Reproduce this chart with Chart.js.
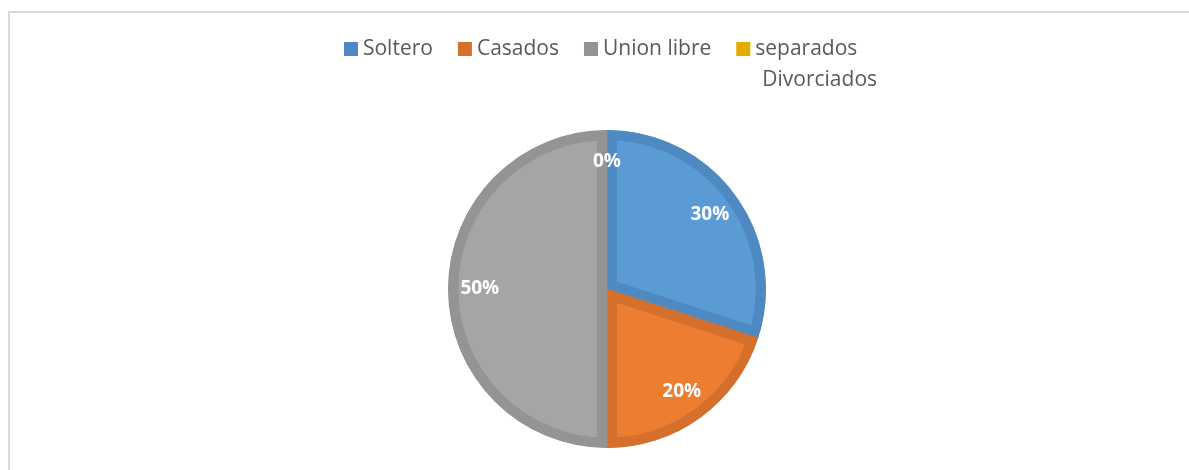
<!DOCTYPE html>
<html>
<head>
<meta charset="utf-8">
<script src="https://cdn.jsdelivr.net/npm/chart.js@4/dist/chart.umd.min.js"></script>
<style>
  html, body { margin: 0; padding: 0; background: #ffffff; overflow: hidden; width: 1189px; height: 470px; }
  #frame { position: absolute; left: 8px; top: 11px; width: 1181px; height: 459px;
           border-left: 2px solid #d9d9d9; border-top: 2px solid #d9d9d9; box-sizing: border-box; }
  #wrap { position: absolute; left: 0; top: 0; width: 1189px; height: 470px; }
</style>
</head>
<body>
<div id="frame"></div>
<div id="wrap"><canvas id="c" width="1189" height="470"></canvas></div>
<script>
const categories = ["Soltero", "Casados", "Union libre", "separados Divorciados"];
const legendLines = [["Soltero"], ["Casados"], ["Union libre"], ["separados", "Divorciados"]];
const values = [30, 20, 50, 0];
const percentLabels = ["30%", "20%", "50%", "0%"];
const fillColors = ["#5B9BD5", "#ED7D31", "#A5A5A5", "#FFC000"];
const edgeColors = ["#4F89C2", "#D4702C", "#949494", "#E5AC00"];

const labelPlugin = {
  id: 'sliceLabels',
  afterDatasetsDraw(chart) {
    const ctx = chart.ctx;
    const meta = chart.getDatasetMeta(0);
    ctx.save();
    ctx.font = 'bold 19px "Open Sans"';
    ctx.fillStyle = '#ffffff';
    ctx.textAlign = 'center';
    ctx.textBaseline = 'middle';
    meta.data.forEach((arc, i) => {
      const p = arc.getProps(['x', 'y', 'startAngle', 'endAngle', 'outerRadius'], true);
      const mid = (p.startAngle + p.endAngle) / 2;
      const r = p.outerRadius * 0.8;
      ctx.fillText(percentLabels[i], p.x + Math.cos(mid) * r, p.y + Math.sin(mid) * r);
    });
    ctx.restore();
  }
};

// Legend drawn from the chart's own data (labels + dataset colours)
const legendPlugin = {
  id: 'wrapLegend',
  afterDraw(chart) {
    const ctx = chart.ctx;
    const box = 14, boxGap = 5, itemGap = 25, firstY = 49, lineH = 31;
    ctx.save();
    ctx.font = '21px "Open Sans"';
    ctx.textBaseline = 'middle';
    ctx.textAlign = 'left';
    const widths = legendLines.map(lines => box + boxGap + Math.max(...lines.map(t => ctx.measureText(t).width)));
    const total = widths.reduce((a, b) => a + b, 0) + itemGap * (widths.length - 1);
    const cx = (chart.chartArea.left + chart.chartArea.right) / 2;
    let x = cx - total / 2;
    const colors = chart.data.datasets[0].borderColor;
    legendLines.forEach((lines, i) => {
      ctx.fillStyle = colors[i];
      ctx.fillRect(x, firstY - box / 2, box, box);
      ctx.fillStyle = '#595959';
      lines.forEach((t, j) => ctx.fillText(t, x + box + boxGap + (j > 0 ? 7 : 0), firstY + j * lineH));
      x += widths[i] + itemGap;
    });
    ctx.restore();
  }
};

new Chart(document.getElementById('c'), {
  type: 'pie',
  data: {
    labels: categories,
    datasets: [{
      data: values,
      backgroundColor: fillColors,
      borderColor: edgeColors,
      borderWidth: 10,
      borderAlign: 'inner',
      hoverOffset: 0
    }]
  },
  options: {
    responsive: false,
    animation: false,
    radius: 159,
    layout: { padding: { left: 25, right: 0, top: 118, bottom: 10 } },
    plugins: {
      tooltip: { enabled: false },
      legend: { display: false }
    }
  },
  plugins: [labelPlugin, legendPlugin]
});
</script>
</body>
</html>
